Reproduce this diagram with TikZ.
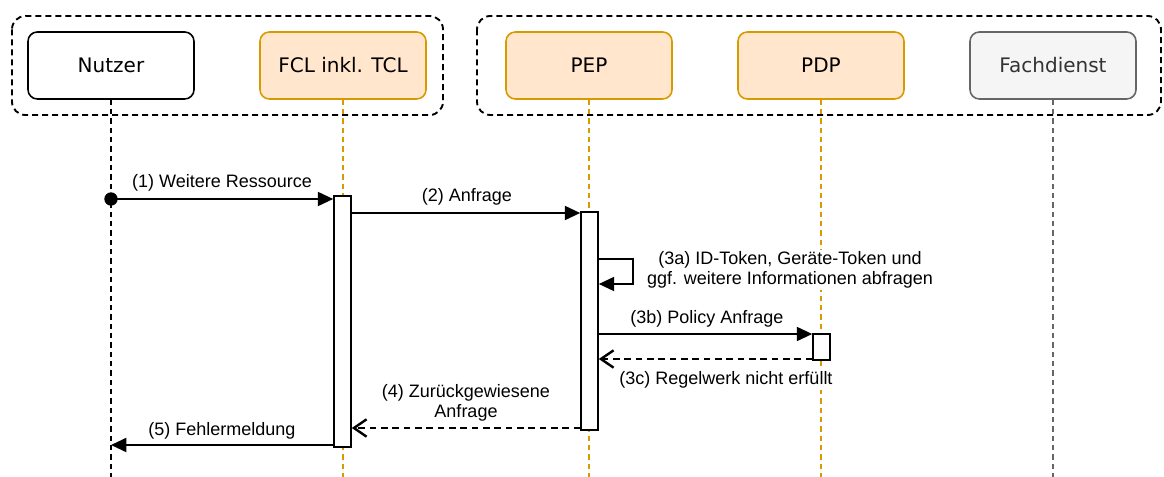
\documentclass[tikz,border=0pt]{standalone}
\usepackage{fontspec}
\setmainfont{Liberation Sans}
\newfontfamily\boxfont{DejaVu Sans}
\usepackage{tikz}
\usetikzlibrary{arrows.meta}
\definecolor{orangeline}{HTML}{D79B00}
\definecolor{orangefill}{HTML}{FFE6CC}
\definecolor{grayline}{HTML}{666666}
\definecolor{grayfill}{HTML}{F5F5F5}
\definecolor{graytext}{HTML}{333333}

\begin{document}
\begin{tikzpicture}[x=0.75pt, y=-0.75pt,
		actor/.style={draw, line width=1.2pt, rounded corners=7pt, minimum width=124.5pt, minimum height=50.25pt, font=\boxfont\fontsize{15}{18}\selectfont},
		bar/.style={draw, fill=white, line width=1.2pt, minimum width=12.75pt, inner sep=0pt},
		lifeline/.style={line width=1.2pt, dash pattern=on 4pt off 3pt},
		group/.style={line width=1.4pt, dash pattern=on 4.5pt off 3pt, rounded corners=10pt},
		msg/.style={line width=1.4pt, -{Triangle[length=11.5pt, width=10.5pt]}},
		ret/.style={line width=1.8pt, dash pattern=on 5pt off 3.5pt, -{Straight Barb[length=9.5pt, width=13pt, line width=1.8pt]}},
		lbl/.style={fill=white, inner sep=1pt, align=center, font=\fontsize{13.5}{15.5}\selectfont}]
				\useasboundingbox (0,0) rectangle (1164,477);
				\draw[group] (12,16) rectangle (443,115);
				\draw[group] (477,16) rectangle (1161,115);
				\node[actor] (nutzer) at (111,65.5) {Nutzer};
				\node[actor, draw=orangeline, fill=orangefill] (fcl) at (343,65.5) {FCL inkl. TCL};
				\node[actor, draw=orangeline, fill=orangefill] (pep) at (589,65.5) {PEP};
				\node[actor, draw=orangeline, fill=orangefill] (pdp) at (821,65.5) {PDP};
				\node[actor, draw=grayline, fill=grayfill, text=graytext] (fach) at (1053,65.5) {Fachdienst};
				\foreach \n/\c in {nutzer/black, fcl/orangeline, pep/orangeline, pdp/orangeline, fach/grayline} {
					\draw[lifeline, draw=\c] (\n.south) -- (\n.south |- 0,477);
				}
				\node[bar, minimum height=188.25pt] (fclbar) at (342.5,321.5) {};
				\node[bar, minimum height=163.5pt] (pepbar) at (589.5,321) {};
				\node[bar, minimum height=19.5pt] (pdpbar) at (821.5,347) {};
				\coordinate (start) at (111,199);
				\fill (start) circle (5pt);
				\draw[msg] (start) -- (fclbar.west |- start);
				\node[lbl] (l1) at (222,183) {(1) Weitere Ressource};
				\draw[msg] (fclbar.east |- 0,213) -- (pepbar.west |- 0,213);
				\node[lbl] (l2) at (467,197) {(2) Anfrage};
				\draw[msg] (pepbar.east |- 0,259) -- ++(34,0) |- (pepbar.east |- 0,284);
				\node[lbl] (l3a) at (790,270) {(3a) ID-Token, Geräte-Token und\\ggf. weitere Informationen abfragen};
				\draw[msg] (pepbar.east |- 0,334) -- (pdpbar.west |- 0,334);
				\node[lbl] (l3b) at (707,319) {(3b) Policy Anfrage};
				\draw[ret] (pdpbar.west |- 0,359) -- (pepbar.east |- 0,359);
				\node[lbl] (l3c) at (726,380) {(3c) Regelwerk nicht erfüllt};
				\draw[ret] (pepbar.west |- 0,428) -- (fclbar.east |- 0,428);
				\node[lbl] (l4) at (466,403) {(4) Zurückgewiesene\\Anfrage};
				\draw[msg] (fclbar.west |- 0,445) -- (nutzer |- 0,445);
				\node[lbl] (l5) at (222,431) {(5) Fehlermeldung};
			\end{tikzpicture}
\end{document}
